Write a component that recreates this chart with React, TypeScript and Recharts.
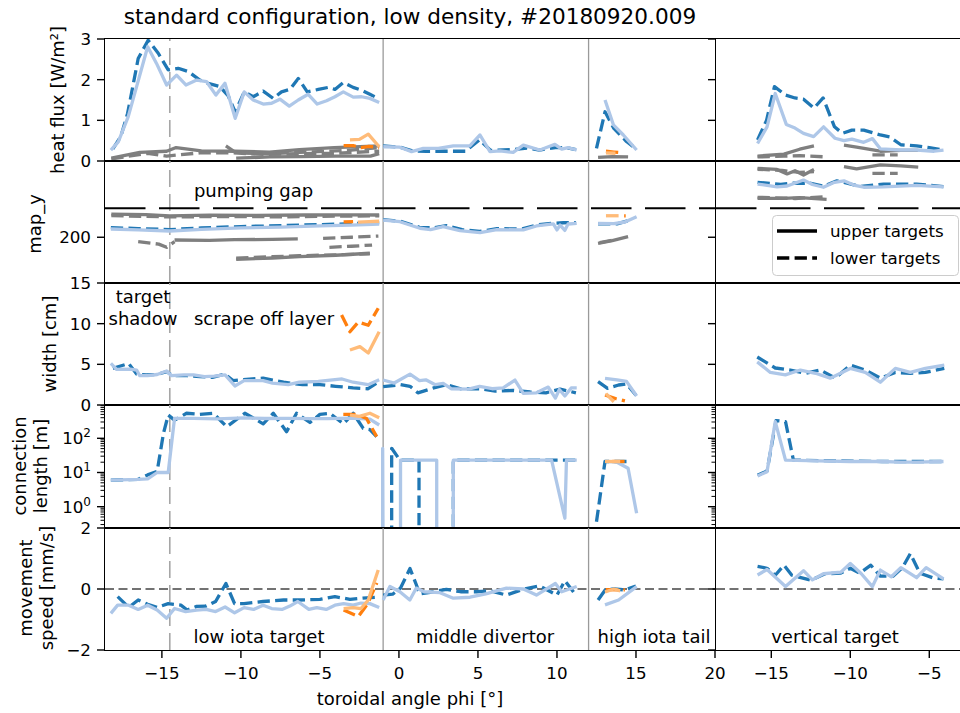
import React from 'react';
import { LineChart, Line, XAxis, YAxis, ReferenceLine, Legend } from 'recharts';

// ================= DATA =================
const titleText = 'standard configuration, low density, #20180920.009';
const xLabelText = 'toroidal angle phi [°]';
const xTicksLeft = [-15, -10, -5, 0, 5, 10, 15, 20];
const xTicksRight = [-15, -10, -5];
const hfTicks = [0, 1, 2, 3];
const myTicks = [200];
const wdTicks = [0, 5, 10, 15];
const clMajor = [1, 10, 100];
const clMinor = [0.3, 0.4, 0.5, 0.6, 0.7, 0.8, 0.9, 2, 3, 4, 5, 6, 7, 8, 9, 20, 30, 40, 50, 60, 70, 80, 90, 200, 300, 400, 500, 600, 700, 800, 900];
const spTicks = [-2, 0, 2];
const rowLabels = [['heat flux [W/m²]'], ['map_y'], ['width [cm]'], ['connection', 'length [m]'], ['movement', 'speed [mm/s]']];
const regionNames = ['low iota target', 'middle divertor', 'high iota tail', 'vertical target'];
const legendNames = ['upper targets', 'lower targets'];
const pumpingGapY = 219;
const shadowEdgePhi = -14.5;
const regionEdges = [-1, 12];

// heat flux [W/m²]
const hfLowUp = [[-18.23,0.27],[-17.76,0.47],[-17.13,1.09],[-16.6,1.83],[-15.9,2.81],[-15.34,2.4],[-14.7,1.87],[-14.07,2.11],[-13.48,1.87],[-12.8,1.99],[-12.17,1.95],[-11.58,1.62],[-11.01,1.91],[-10.36,1.05],[-9.79,1.7],[-9.22,1.5],[-8.59,1.4],[-8.06,1.42],[-7.53,1.52],[-6.94,1.35],[-6.37,1.5],[-5.74,1.64],[-5.17,1.4],[-4.58,1.48],[-4.05,1.58],[-3.52,1.7],[-2.89,1.57],[-2.36,1.58],[-1.84,1.54],[-1.25,1.44]];
const hfLowLo = [[-18.1,0.3],[-17.6,0.6],[-17.17,1.17],[-16.5,2.52],[-15.87,2.97],[-15.23,2.65],[-14.6,2.24],[-13.97,2.28],[-13.34,2.2],[-12.6,1.99],[-12.07,1.91],[-11.33,1.83],[-10.8,1.6],[-10.36,1.2],[-9.79,1.7],[-9.22,1.58],[-8.59,1.72],[-7.96,1.54],[-7.43,1.7],[-6.9,1.76],[-6.37,2.03],[-5.8,1.7],[-5.1,1.76],[-4.47,1.81],[-4.05,1.76],[-3.52,1.93],[-2.9,1.81],[-2.36,1.74],[-1.84,1.64],[-1.25,1.53]];
const hfLowOUp = [[-3.1,0.52],[-2.5,0.53],[-1.94,0.66],[-1.25,0.35]];
const hfLowOLo = [[-3.5,0.38],[-2.9,0.38],[-2.4,0.33],[-1.9,0.36],[-1.25,0.33]];
const hfLowGrayA = [[-18.2,0.07],[-16.4,0.21],[-14.7,0.24],[-14.1,0.33],[-12.5,0.25],[-10.4,0.24],[-8.2,0.22],[-6.3,0.28],[-4.1,0.33],[-1.25,0.37]];
const hfLowGrayB = [[-18.2,0.05],[-15.9,0.19],[-14.7,0.12],[-12.6,0.2],[-10.5,0.2],[-8.4,0.16],[-6.2,0.18],[-4.05,0.19],[-1.25,0.24]];
const hfLowGrayC = [[-10.3,0.07],[-8.2,0.1],[-6.3,0.11],[-4,0.12],[-1.8,0.12],[-1.25,0.18]];
const hfLowGrayD = [[-10.95,0.37],[-10.3,0.2],[-8.3,0.18],[-6.3,0.21],[-3.2,0.26],[-1.25,0.33]];
const hfMidUp = [[-0.99,0.35],[0.06,0.34],[0.8,0.23],[1.54,0.31],[2.49,0.31],[3.44,0.37],[4.49,0.37],[5.13,0.64],[5.76,0.23],[6.4,0.25],[7.23,0.21],[7.87,0.39],[8.92,0.27],[9.87,0.41],[10.3,0.29],[10.7,0.33],[11.25,0.27]];
const hfMidLo = [[-1.0,0.37],[0.06,0.34],[0.85,0.25],[1.75,0.24],[2.9,0.24],[4.2,0.24],[5.1,0.52],[5.8,0.26],[7.2,0.28],[8.1,0.32],[8.9,0.27],[9.9,0.33],[10.6,0.33],[11.2,0.28]];
const hfHighUp = [[13.04,1.5],[13.57,0.89],[14.2,0.64],[15.04,0.27]];
const hfHighLo = [[12.5,0.31],[13.04,1.21],[13.6,0.8],[14.4,0.48],[15.0,0.3]];
const hfHighOLo = [[13.1,0.24],[13.6,0.22],[14.2,0.2]];
const hfHighOUp = [[13.1,0.2],[13.7,0.19]];
const hfHighGray = [[12.6,0.09],[13.5,0.11],[14.5,0.1]];
const hfVertUp = [[-15.87,0.43],[-15.27,0.84],[-14.75,1.66],[-14.05,0.9],[-13.5,0.81],[-12.96,0.68],[-12.32,0.6],[-11.69,0.84],[-10.97,0.56],[-10.4,0.5],[-9.9,0.54],[-9.15,0.46],[-8.6,0.55],[-8.1,0.3],[-6.8,0.27],[-5.8,0.27],[-4.7,0.24],[-4.1,0.27]];
const hfVertLo = [[-15.87,0.52],[-15.3,1.0],[-14.8,1.83],[-14.1,1.62],[-13.5,1.55],[-12.96,1.52],[-12.3,1.3],[-11.72,1.55],[-11.0,0.84],[-10.5,0.68],[-9.9,0.76],[-9.15,0.76],[-8.1,0.64],[-7.5,0.59],[-6.8,0.4],[-5.8,0.37],[-5.0,0.33],[-4.1,0.27]];
const hfVertGrayA = [[-15.87,0.12],[-14.2,0.17],[-13.2,0.29],[-12.3,0.37]];
const hfVertGrayB = [[-15.87,0.1],[-14.2,0.12],[-13.2,0.13],[-11.5,0.1]];
const hfVertGrayC = [[-10.4,0.39],[-9.6,0.34],[-8.1,0.24],[-6.8,0.26],[-5.7,0.26]];
const hfVertGrayD = [[-8.6,0.15],[-7.0,0.15]];

// map_y
const myLowUp = [[-18.23,205.4],[-16.5,204.8],[-14.5,204.1],[-12.5,205.2],[-10,206.1],[-7.5,206.7],[-5,207.4],[-3,208.0],[-1.25,208.7]];
const myLowLo = [[-18.23,206.3],[-16.5,205.7],[-14.5,205.0],[-12.5,206.1],[-10,207.0],[-7.5,207.6],[-5,208.3],[-3,208.9],[-1.25,209.6]];
const myLowOUp = [[-2.6,209.9],[-1.9,210.2],[-1.25,210.5]];
const myLowOLo = [[-3.5,210.1],[-2.9,210.3]];
const myLowGrayA = [[-18.2,215.2],[-16,214.9],[-14.5,214.0],[-12,214.5],[-9,214.3],[-6,214.6],[-3,214.7],[-1.25,214.6]];
const myLowGrayB = [[-18.2,214.2],[-14.5,213.3],[-11,213.6],[-7,213.4],[-4,213.9],[-1.25,214.0]];
const myLowGrayC = [[-16.5,197.1],[-15.2,195.5],[-14.7,193.4],[-14.2,197.1]];
const myLowGrayD = [[-14.2,198.2],[-12,198.0],[-10.4,198.4],[-8,198.6],[-6.4,198.9]];
const myLowGrayE = [[-10.3,185.5],[-8,186.4],[-6.3,187.3],[-4,188.2],[-1.84,189.5]];
const myLowGrayF = [[-10.3,186.3],[-8,187.2],[-6.3,187.9],[-3.5,188.6],[-1.84,189.1]];
const myLowGrayG = [[-4.8,199.3],[-3,200],[-1.3,200.8]];
const myLowGrayH = [[-4.4,193.4],[-3,194.1],[-1.7,194.9]];
const myMidUp = [[-1,211.3],[0.06,210.2],[1.33,205.9],[2.0,205],[2.8,207],[3.86,204.3],[5.13,203],[6.2,205],[7.87,204.8],[8.7,207.4],[9.77,208.7],[10.0,204.8],[10.2,208],[10.5,204.5],[10.7,208.7],[11.25,209.1]];
const myMidLo = [[-1,211.5],[0.1,210.5],[1.3,206.5],[2.2,206.2],[3.0,207.6],[4.0,205.0],[5.1,203.8],[6.2,205.6],[7.8,205.5],[8.7,208],[9.7,209.2],[10.4,209.5],[11.2,209.6]];
const myHighUp = [[12.6,209.1],[13.6,209],[14.3,210],[15.04,213.5]];
const myHighLo = [[12.6,208.8],[13.8,208.8],[14.5,210.8]];
const myHighOUp = [[13.1,214.1],[13.9,214.1]];
const myHighOLo = [[14.25,214.0],[14.35,214.0]];
const myHighGrayA = [[12.6,196],[13.5,197.8],[14.5,200.4]];
const myHighGrayB = [[12.7,196.5],[13.8,198.5]];
const myVertUp = [[-15.87,234.9],[-14.64,233.1],[-14.0,233.6],[-12.96,237.5],[-12.4,234.6],[-11.7,232.8],[-11.0,236],[-10.4,237],[-9.7,234],[-9.15,232.8],[-7.9,233],[-5.8,234],[-4.1,233.1]];
const myVertLo = [[-15.87,236],[-14.4,234.6],[-13.8,235.4],[-12.5,235.4],[-11.7,233.5],[-10.85,237],[-10.2,235.4],[-9.4,233.3],[-7.9,234.9],[-5.8,234.9],[-4.1,233.2]];
const myVertGrayA = [[-15.87,245.2],[-14.64,244.5],[-14.0,241.5],[-13.5,243.6],[-12.96,240.8],[-12.3,244.4]];
const myVertGrayB = [[-15.87,244.6],[-14.3,243.8],[-13.2,242.5],[-12.3,243]];
const myVertGrayC = [[-10.4,246.3],[-9.6,244.8],[-8.1,247.4],[-6.8,246.8],[-5.7,246]];
const myVertGrayD = [[-8.6,241.9],[-7.0,241.9]];
const myVertGrayE = [[-15.87,225.5],[-14.2,225.5],[-13.2,226],[-11.5,224.9]];
const myVertGrayF = [[-15.87,226.2],[-13.5,225.4],[-11.6,226.5]];

// width [cm]
const wdLowUp = [[-18.23,5.12],[-17.87,4.39],[-17.0,4.4],[-16.6,4.3],[-16.4,3.6],[-15.9,3.6],[-15.3,3.75],[-14.7,4.18],[-14.4,3.6],[-13.6,3.7],[-13.0,3.7],[-12.3,3.5],[-11.7,3.55],[-11.0,3.7],[-10.38,2.34],[-9.8,3.0],[-8.6,3.0],[-8.0,2.7],[-7.0,2.5],[-6.3,2.8],[-5.1,2.9],[-4.2,3.1],[-3.6,3.2],[-2.9,2.8],[-1.95,2.5],[-1.25,3.1]];
const wdLowLo = [[-18.1,4.5],[-17.1,5.1],[-16.6,3.8],[-16.0,3.7],[-15.3,3.75],[-14.7,4.1],[-14.3,3.6],[-13.4,3.6],[-12.6,3.5],[-11.8,3.4],[-11.0,3.8],[-10.5,3.0],[-9.9,3.1],[-8.6,3.3],[-7.3,2.8],[-6.1,2.5],[-5.0,2.5],[-4.0,2.3],[-2.9,2.1],[-1.95,2.0],[-1.25,2.9]];
const wdLowOLo = [[-3.63,11.07],[-3.1,9.0],[-2.57,10.2],[-1.94,9.8],[-1.31,11.9]];
const wdLowOUp = [[-3.1,6.76],[-2.47,7.17],[-1.94,6.4],[-1.25,9.0]];
const wdMidUp = [[-1.0,3.07],[-0.3,2.7],[0.7,3.8],[1.3,3.0],[1.7,3.1],[2.3,2.5],[2.8,2.65],[3.3,2.0],[4.4,1.95],[5.1,2.3],[5.9,2.0],[6.6,2.1],[7.34,3.07],[7.87,1.43],[8.7,1.5],[9.45,2.2],[9.9,0.85],[10.15,1.9],[10.5,1.1],[10.9,2.1],[11.25,2.1]];
const wdMidLo = [[-1.0,2.25],[0.1,2.5],[0.7,2.3],[1.2,1.5],[2.2,2.1],[3.0,2.5],[3.9,2.0],[5.1,2.0],[6.1,1.7],[7.2,1.8],[8.3,1.6],[9.3,1.5],[10.2,1.95],[11.2,1.5]];
const wdHighUp = [[13.04,3.28],[13.8,3.1],[14.4,2.9],[15.04,1.1]];
const wdHighLo = [[12.6,2.87],[13.2,2.05],[13.9,2.46],[14.4,2.6],[15.0,1.2]];
const wdHighOLo = [[13.04,1.23],[13.7,0.8],[14.3,0.5]];
const wdHighOUp = [[13.1,1.4],[13.6,0.4]];
const wdVertUp = [[-15.89,5.3],[-15.06,4.0],[-14.11,3.7],[-13.16,4.3],[-12.2,3.9],[-11.27,3.3],[-10.0,4.5],[-9.05,4.0],[-8.1,2.8],[-7.15,4.5],[-6.2,4.0],[-5.25,4.5],[-4.05,4.9]];
const wdVertLo = [[-15.89,5.9],[-14.75,4.55],[-13.8,4.3],[-12.85,3.9],[-11.9,4.3],[-10.95,3.3],[-10.0,4.9],[-9.05,4.3],[-8.1,3.3],[-7.15,4.0],[-6.2,3.9],[-5.25,4.0],[-4.05,4.5]];

// connection length [m]
const clLowUp = [[-18.23,6.0],[-16.5,6.3],[-15.9,6.5],[-15.3,10],[-14.6,10],[-14.2,383],[-13,385],[-11.5,372],[-9.8,395],[-8.5,380],[-7,384],[-5.5,375],[-4.5,378],[-3,388],[-1.84,365],[-1.25,245]];
const clLowLo = [[-18.23,6.0],[-16.5,6.3],[-15.9,8.5],[-15.3,10.8],[-14.9,140],[-14.6,480],[-14.2,340],[-13.44,540],[-12.6,500],[-11.75,540],[-10.9,218],[-9.75,540],[-8.59,265],[-7.95,540],[-7.11,156],[-6.48,540],[-5.63,290],[-5.0,500],[-4.37,540],[-3.52,265],[-2.89,540],[-2.26,195],[-1.84,180],[-1.41,112]];
const clLowOLo = [[-3.52,500],[-2.68,500],[-2.05,380],[-1.41,112]];
const clLowOUp = [[-3.1,480],[-2.5,440],[-1.84,540],[-1.25,400]];
const clMidUp = [[-1.03,0.0001],[-1.03,51],[-0.98,0.0001],[0.1,0.0001],[0.1,23],[1.0,23],[2.39,23],[2.39,0.0001],[3.44,0.0001],[3.44,23],[6,23],[9.66,23],[10.5,0.46],[10.6,23],[11.25,23]];
const clMidLo = [[-0.46,0.0001],[-0.46,51],[0.06,23],[1.27,23],[1.27,0.0001],[3.44,0.0001],[3.44,23],[9.6,23],[10.2,23],[11.2,23]];
const clHighUp = [[13.04,21],[13.8,20],[14.5,13.3],[15.04,0.64]];
const clHighLo = [[12.5,0.36],[13.04,21],[14.4,21]];
const clHighOUp = [[13.04,21],[14.0,21]];
const clHighOLo = [[13.5,21],[14.3,21]];
const clVertUp = [[-15.87,7.9],[-15.27,10.6],[-14.75,307],[-14.1,23],[-12,22],[-10,21],[-8,21],[-6.8,20],[-5.8,20],[-4.1,21]];
const clVertLo = [[-15.87,8.3],[-15.27,11],[-14.7,330],[-14.1,307],[-13.6,23],[-11,22],[-8,21],[-6,21],[-4.1,21]];

// movement speed [mm/s]
const spLowUp = [[-18.23,-0.8],[-17.8,-0.53],[-17.1,-0.53],[-16.5,-0.67],[-15.9,-0.53],[-15.3,-0.69],[-14.7,-0.96],[-14.2,-0.64],[-13.5,-0.74],[-12.8,-0.69],[-12.2,-0.67],[-11.6,-0.74],[-11.0,-0.59],[-10.4,-0.78],[-9.8,-0.61],[-9.2,-0.67],[-8.6,-0.53],[-8.05,-0.64],[-7.4,-0.67],[-6.9,-0.56],[-6.4,-0.41],[-5.7,-0.67],[-5.2,-0.61],[-4.6,-0.67],[-4.05,-0.53],[-3.5,-0.48],[-2.9,-0.53],[-2.4,-0.46],[-1.84,-0.48],[-1.25,-0.61]];
const spLowLo = [[-17.8,-0.25],[-17.1,-0.6],[-16.5,-0.36],[-15.9,-0.5],[-15.3,-0.6],[-14.6,-0.48],[-13.8,-0.53],[-13.4,-0.69],[-12.8,-0.57],[-12.2,-0.56],[-11.6,-0.41],[-10.95,0.18],[-10.4,-0.48],[-9.8,-0.48],[-8.6,-0.41],[-7.3,-0.36],[-6.3,-0.36],[-5.0,-0.34],[-4.05,-0.25],[-3.1,-0.34],[-2.3,-0.3],[-1.4,-0.27]];
const spLowOUp = [[-3.5,-0.64],[-2.9,-0.61],[-2.4,-0.64],[-1.94,-0.36],[-1.31,0.62]];
const spLowOLo = [[-3.5,-0.69],[-2.57,-0.9],[-2.0,-0.5],[-1.4,0.2]];
const spMidUp = [[-1.0,-0.36],[-0.57,0.08],[0.06,-0.09],[0.69,-0.36],[1.1,0.03],[1.6,-0.09],[2.6,-0.12],[3.44,-0.3],[4.5,-0.27],[5.5,-0.16],[6.8,0.03],[7.87,0.0],[8.7,-0.2],[9.9,0.18],[10.3,-0.09],[11.25,0.08]];
const spMidLo = [[-1.0,-0.2],[-0.4,-0.17],[0.1,0.03],[0.7,0.67],[1.1,0.14],[1.3,-0.16],[2.2,-0.09],[3.0,-0.01],[3.9,-0.09],[4.9,-0.09],[5.8,-0.06],[6.8,-0.2],[7.9,0.0],[8.9,0.1],[9.6,-0.09],[10.0,-0.2],[10.5,0.27],[11.2,-0.2]];
const spHighLo = [[12.6,-0.36],[13.04,-0.04],[13.6,0.0],[14.3,-0.03],[15.0,0.1]];
const spHighUp = [[13.04,-0.52],[13.9,-0.36],[15.04,0.08]];
const spHighOUp = [[13.04,-0.1],[13.6,0.0],[14.0,-0.06]];
const spHighOLo = [[13.1,-0.02],[14.3,-0.03]];
const spVertUp = [[-15.87,0.46],[-15.27,0.64],[-14.1,0.08],[-12.96,0.6],[-12.4,0.3],[-11.7,0.5],[-10.6,0.55],[-10.0,0.84],[-9.3,0.5],[-8.6,0.08],[-8.1,0.62],[-7.4,0.4],[-6.8,0.7],[-5.8,0.37],[-5.2,0.7],[-4.1,0.33]];
const spVertLo = [[-15.87,0.74],[-15.27,0.68],[-14.75,0.45],[-14.2,0.78],[-13.7,0.45],[-12.5,0.29],[-11.6,0.5],[-10.6,0.52],[-10.0,0.68],[-9.4,0.52],[-8.7,0.78],[-8.1,0.42],[-7.3,0.42],[-6.7,0.7],[-6.2,1.16],[-5.6,0.52],[-4.8,0.37],[-4.1,0.33]];

// ================= STYLE / LAYOUT =================
const FONT = '"DejaVu Sans", Verdana, sans-serif';
const TICK_FS = 16.7;
const LABEL_FS = 18;
const LW = 3.3;
const DASH = '12.3 5.3';
const KIND: Record<string, { stroke: string; dash?: string }> = {
  lo: { stroke: '#1f77b4', dash: DASH },
  up: { stroke: '#aec7e8' },
  olo: { stroke: '#ff7f0e', dash: DASH },
  oup: { stroke: '#ffbb78' },
  g: { stroke: '#7f7f7f' },
  gd: { stroke: '#7f7f7f', dash: DASH },
};
const PADL = 80, PADT = 15, PADR = 15, PADB = 15, XAXH = 40;
const COLS = {
  L: { x0: 105, w: 610, domain: [-18.6, 20] as [number, number], ticks: xTicksLeft },
  R: { x0: 716, w: 260.7, domain: [-18.5, -2] as [number, number], ticks: xTicksRight },
};
const ROWS = [
  { top: 39, h: 122 },
  { top: 161, h: 122 },
  { top: 283, h: 122 },
  { top: 405, h: 123 },
  { top: 528, h: 122 },
];

const pts = (a: number[][]) => a.map(([x, y]) => ({ x, y }));
const fmt = (v: number) => (v < 0 ? '\u2212' + Math.abs(v) : String(v));

type Ser = [number[][], string];

function LegendBox() {
  return (
    <svg width={187} height={61} style={{ display: 'block' }}>
      <rect x={0.5} y={0.5} width={186} height={60} rx={4} fill="rgba(255,255,255,0.8)" stroke="#cccccc" strokeWidth={1} />
      <line x1={5} x2={45} y1={16} y2={16} stroke="#000" strokeWidth={LW} />
      <text x={58} y={22} fontSize={TICK_FS} fontFamily={FONT}>{legendNames[0]}</text>
      <line x1={5} x2={45} y1={43} y2={43} stroke="#000" strokeWidth={LW} strokeDasharray={DASH} />
      <text x={58} y={49} fontSize={TICK_FS} fontFamily={FONT}>{legendNames[1]}</text>
    </svg>
  );
}

function Panel(props: {
  col: 'L' | 'R';
  row: number;
  series: Ser[];
  yDomain: [number, number];
  yTicks: number[];
  log?: boolean;
  minor?: number[];
  legend?: boolean;
}) {
  const { col, row, series, yDomain, yTicks, log, minor, legend } = props;
  const g = COLS[col];
  const { top, h } = ROWS[row];
  const isBottom = row === 4;
  const W = g.w + PADL + PADR;
  const H = h + PADT + PADB + (isBottom ? XAXH : 0);
  const minorSet = new Set(minor || []);
  const showLabels = col === 'L';

  const yTick = (tp: any) => {
    const { y, payload } = tp;
    const v = payload.value;
    const isMinor = minorSet.has(v);
    const len = isMinor ? 4.5 : 8;
    return (
      <g>
        <line x1={PADL - len} x2={PADL} y1={y} y2={y} stroke="#000" strokeWidth={isMinor ? 1 : 1.4} />
        {showLabels && !isMinor && (log ? (
          <text x={PADL - 14} y={y + 6} textAnchor="end" fontSize={TICK_FS} fontFamily={FONT} fill="#000">
            <tspan>10</tspan>
            <tspan dy={-7} fontSize={12}>{Math.round(Math.log10(v))}</tspan>
          </text>
        ) : (
          <text x={PADL - 14} y={y + 6} textAnchor="end" fontSize={TICK_FS} fontFamily={FONT} fill="#000">{fmt(v)}</text>
        ))}
      </g>
    );
  };
  const xTick = (tp: any) => {
    const { x, payload } = tp;
    const yb = PADT + h;
    return (
      <g>
        <line x1={x} x2={x} y1={yb} y2={yb + 8} stroke="#000" strokeWidth={1.4} />
        <text x={x} y={yb + 29} textAnchor="middle" fontSize={TICK_FS} fontFamily={FONT} fill="#000">{fmt(payload.value)}</text>
      </g>
    );
  };

  return (
    <div style={{ position: 'absolute', left: g.x0 - PADL, top: top - PADT }}>
      <LineChart width={W} height={H} margin={{ top: PADT, right: PADR, bottom: PADB, left: 0 }}>
        <XAxis
          type="number"
          dataKey="x"
          domain={g.domain}
          allowDataOverflow
          ticks={g.ticks}
          interval={0}
          hide={!isBottom}
          height={XAXH}
          tick={xTick}
          tickLine={false}
          axisLine={false}
        />
        <YAxis
          type="number"
          scale={log ? 'log' : 'linear'}
          domain={yDomain}
          allowDataOverflow
          ticks={yTicks}
          interval={0}
          width={PADL}
          tick={yTick}
          tickLine={false}
          axisLine={false}
        />
        {col === 'L' && (
          <ReferenceLine x={shadowEdgePhi} stroke="#a6a6a6" strokeWidth={1.6} strokeDasharray="17 7" />
        )}
        {col === 'L' && regionEdges.map((e) => (
          <ReferenceLine key={e} x={e} stroke="#9a9a9a" strokeWidth={1.3} />
        ))}
        {row === 1 && (
          <ReferenceLine y={pumpingGapY} stroke="#000" strokeWidth={2} strokeDasharray="40.5 13.5" />
        )}
        {row === 4 && (
          <ReferenceLine y={0} stroke="#444" strokeWidth={1.3} strokeDasharray="9 4.5" />
        )}
        {series.map(([d, k], i) => (
          <Line
            key={i}
            data={pts(d)}
            dataKey="y"
            type="linear"
            stroke={KIND[k].stroke}
            strokeWidth={LW}
            strokeDasharray={KIND[k].dash}
            strokeLinejoin="round"
            dot={false}
            activeDot={false}
            isAnimationActive={false}
            legendType="none"
          />
        ))}
        {legend && (
          <Legend
            layout="vertical"
            align="center"
            verticalAlign="middle"
            content={() => <LegendBox />}
            wrapperStyle={{ left: 772 - (g.x0 - PADL), top: 215 - (top - PADT), width: 187, height: 61 }}
          />
        )}
      </LineChart>
      <div
        style={{
          position: 'absolute',
          left: PADL - 0.7,
          top: PADT - 0.7,
          width: g.w + 1.4,
          height: h + 1.4,
          border: '1.4px solid #000',
          boxSizing: 'border-box',
          pointerEvents: 'none',
        }}
      />
    </div>
  );
}

const hfLeft: Ser[] = [
  [hfLowGrayA, 'g'], [hfLowGrayB, 'gd'], [hfLowGrayC, 'g'], [hfLowGrayD, 'gd'], [hfHighGray, 'g'],
  [hfLowLo, 'lo'], [hfLowUp, 'up'], [hfMidLo, 'lo'], [hfMidUp, 'up'], [hfHighLo, 'lo'], [hfHighUp, 'up'],
  [hfLowOLo, 'olo'], [hfLowOUp, 'oup'], [hfHighOLo, 'olo'], [hfHighOUp, 'oup'],
];
const hfRight: Ser[] = [
  [hfVertGrayA, 'g'], [hfVertGrayB, 'gd'], [hfVertGrayC, 'g'], [hfVertGrayD, 'gd'],
  [hfVertLo, 'lo'], [hfVertUp, 'up'],
];
const myLeft: Ser[] = [
  [myLowGrayA, 'g'], [myLowGrayB, 'gd'], [myLowGrayC, 'gd'], [myLowGrayD, 'g'], [myLowGrayE, 'g'], [myLowGrayF, 'gd'],
  [myLowGrayG, 'gd'], [myLowGrayH, 'gd'], [myHighGrayA, 'g'], [myHighGrayB, 'gd'],
  [myLowLo, 'lo'], [myLowUp, 'up'], [myMidLo, 'lo'], [myMidUp, 'up'], [myHighLo, 'lo'], [myHighUp, 'up'],
  [myLowOLo, 'olo'], [myLowOUp, 'oup'], [myHighOLo, 'olo'], [myHighOUp, 'oup'],
];
const myRight: Ser[] = [
  [myVertGrayA, 'g'], [myVertGrayB, 'gd'], [myVertGrayC, 'g'], [myVertGrayD, 'gd'], [myVertGrayE, 'g'], [myVertGrayF, 'gd'],
  [myVertLo, 'lo'], [myVertUp, 'up'],
];
const wdLeft: Ser[] = [
  [wdLowLo, 'lo'], [wdLowUp, 'up'], [wdMidLo, 'lo'], [wdMidUp, 'up'], [wdHighLo, 'lo'], [wdHighUp, 'up'],
  [wdLowOLo, 'olo'], [wdLowOUp, 'oup'], [wdHighOLo, 'olo'], [wdHighOUp, 'oup'],
];
const wdRight: Ser[] = [[wdVertLo, 'lo'], [wdVertUp, 'up']];
const clLeft: Ser[] = [
  [clLowLo, 'lo'], [clLowUp, 'up'], [clMidLo, 'lo'], [clMidUp, 'up'], [clHighLo, 'lo'], [clHighUp, 'up'],
  [clLowOLo, 'olo'], [clLowOUp, 'oup'], [clHighOLo, 'olo'], [clHighOUp, 'oup'],
];
const clRight: Ser[] = [[clVertLo, 'lo'], [clVertUp, 'up']];
const spLeft: Ser[] = [
  [spLowLo, 'lo'], [spLowUp, 'up'], [spMidLo, 'lo'], [spMidUp, 'up'], [spHighLo, 'lo'], [spHighUp, 'up'],
  [spLowOLo, 'olo'], [spLowOUp, 'oup'], [spHighOLo, 'olo'], [spHighOUp, 'oup'],
];
const spRight: Ser[] = [[spVertLo, 'lo'], [spVertUp, 'up']];

const clTicks = [...clMajor, ...clMinor];

export default function App() {
  const T = (x: number, y: number, s: string, extra: any = {}) => (
    <text x={x} y={y} textAnchor="middle" fontSize={LABEL_FS} fontFamily={FONT} fill="#000" {...extra}>{s}</text>
  );
  const ylab = (bx: number, cy: number, s: string) => (
    <text key={s} transform={`translate(${bx},${cy}) rotate(-90)`} textAnchor="middle" fontSize={LABEL_FS} fontFamily={FONT} fill="#000">{s}</text>
  );
  return (
    <div style={{ position: 'absolute', left: 0, top: 0, width: 960, height: 713, overflow: 'hidden', background: '#fff' }}>
      <Panel col="L" row={0} series={hfLeft} yDomain={[0, 3]} yTicks={hfTicks} />
      <Panel col="R" row={0} series={hfRight} yDomain={[0, 3]} yTicks={hfTicks} />
      <Panel col="L" row={1} series={myLeft} yDomain={[170, 250]} yTicks={myTicks} />
      <Panel col="R" row={1} series={myRight} yDomain={[170, 250]} yTicks={myTicks} legend />
      <Panel col="L" row={2} series={wdLeft} yDomain={[0, 15]} yTicks={wdTicks} />
      <Panel col="R" row={2} series={wdRight} yDomain={[0, 15]} yTicks={wdTicks} />
      <Panel col="L" row={3} series={clLeft} yDomain={[0.238, 942]} yTicks={clTicks} log minor={clMinor} />
      <Panel col="R" row={3} series={clRight} yDomain={[0.238, 942]} yTicks={clTicks} log minor={clMinor} />
      <Panel col="L" row={4} series={spLeft} yDomain={[-2, 2]} yTicks={spTicks} />
      <Panel col="R" row={4} series={spRight} yDomain={[-2, 2]} yTicks={spTicks} />
      <svg width={960} height={713} style={{ position: 'absolute', left: 0, top: 0, pointerEvents: 'none' }}>
        {T(410, 23.5, titleText, { fontSize: 21.6 })}
        {T(410, 705, xLabelText)}
        {ylab(63.5, 100, rowLabels[0][0])}
        {ylab(40.5, 224, rowLabels[1][0])}
        {ylab(56, 344, rowLabels[2][0])}
        {ylab(25.5, 466, rowLabels[3][0])}
        {ylab(46.7, 466, rowLabels[3][1])}
        {ylab(32, 588, rowLabels[4][0])}
        {ylab(53, 588, rowLabels[4][1])}
        {T(253.5, 197, 'pumping gap')}
        {T(143, 303, 'target')}
        {T(143, 325, 'shadow')}
        {T(264, 325, 'scrape off layer')}
        {T(259, 643, regionNames[0])}
        {T(485, 643, regionNames[1])}
        {T(654, 643, regionNames[2])}
        {T(835, 643, regionNames[3])}
      </svg>
    </div>
  );
}
